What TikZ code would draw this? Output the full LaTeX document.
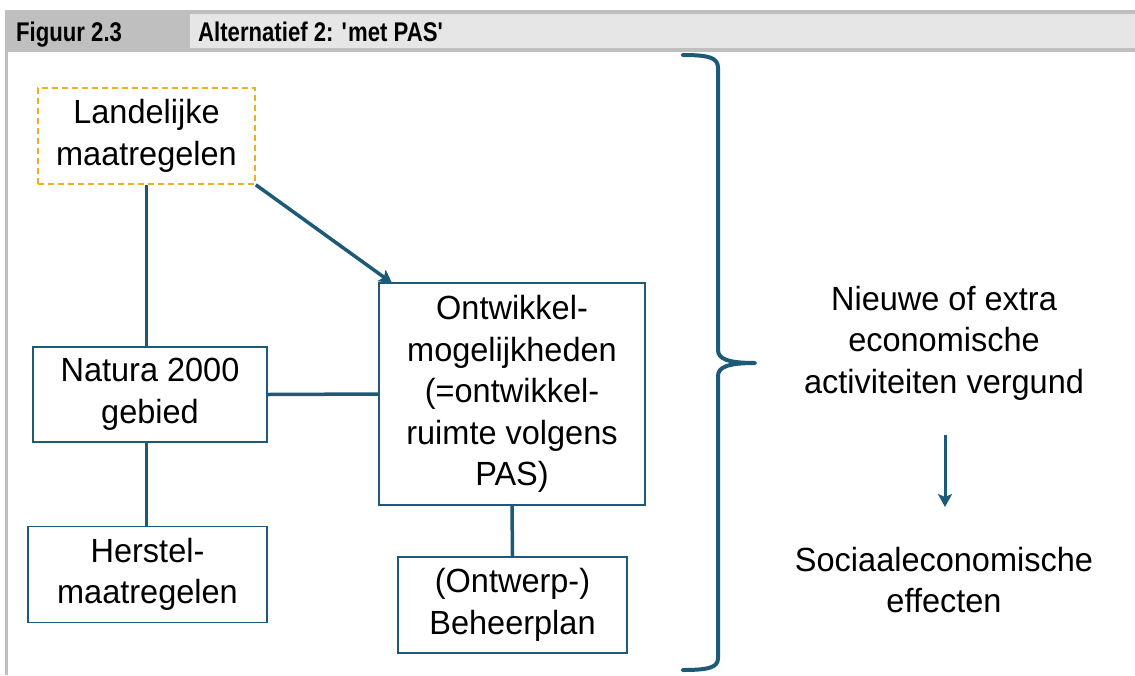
\documentclass[tikz,border=0pt]{standalone}
\usepackage{fontspec}
\setmainfont{Liberation Sans}[FakeStretch=0.97]
\newfontfamily\headfont{Liberation Sans}[FakeStretch=0.82]
\usetikzlibrary{arrows.meta}
\definecolor{navy}{HTML}{1D5A78}
\definecolor{gold}{HTML}{ECB11F}
\definecolor{hdark}{HTML}{BFBFBF}
\definecolor{hlight}{HTML}{E6E6E6}
\tikzset{
  boxstyle/.style={draw=navy, line width=1.8pt, fill=white, align=center, inner sep=0pt,
    font=\fontsize{33.5}{41.5}\selectfont},
  dashbox/.style={draw=gold, line width=1.6pt, dash pattern=on 6pt off 4pt, align=center, inner sep=0pt,
    font=\fontsize{33.5}{41.5}\selectfont},
  plaintext/.style={align=center, inner sep=0pt, font=\fontsize{33.5}{41.5}\selectfont},
  conn/.style={draw=navy, line width=3.5pt},
  arr/.style={draw=navy, line width=3.5pt, -{Stealth[length=13pt,width=14pt,inset=3pt]}},
  headtext/.style={anchor=base west, inner sep=0pt, font=\headfont\fontsize{27}{30}\selectfont\bfseries}
}
\begin{document}
\begin{tikzpicture}[x=1pt,y=-1pt]
\useasboundingbox (0,0) rectangle (1135,675);
% header
\fill[hdark] (5,10) rectangle (1135,52);
\fill[hlight] (190,14) rectangle (1135,48);
\fill[hdark] (5,52) rectangle (8,675);
\node[headtext] (fig) at (16,41.5) {Figuur 2.3};
\node[headtext] (title) at (198,41.5) {Alternatief 2: \textquotesingle met PAS\textquotesingle};
% boxes
\node[dashbox, minimum width=217pt, minimum height=96pt] (L) at (146.5,136) {Landelijke\\maatregelen};
\node[boxstyle, minimum width=234pt, minimum height=95pt] (N) at (150,394.5) {Natura 2000\\gebied};
\node[boxstyle, minimum width=239pt, minimum height=96pt] (H) at (147.5,574.5) {Herstel-\\maatregelen};
\node[boxstyle, minimum width=266pt, minimum height=222pt] (O) at (512,394) {Ontwikkel-\\mogelijkheden\\(=ontwikkel-\\ruimte volgens\\PAS)};
\node[boxstyle, minimum width=229pt, minimum height=96pt] (B) at (512.5,605) {(Ontwerp-)\\Beheerplan};
% connectors
\draw[conn] (L.south) -- (L.south |- N.north);
\draw[conn] (N.south -| L.south) -- (L.south |- H.north);
\draw[conn] (N.east) -- (O.west);
\draw[conn] (O.south) -- (B.north);
\draw[arr] (L.south east) -- ([xshift=14pt,yshift=-1pt]O.north west);
% brace
\draw[navy, line width=4pt, line cap=round, line join=round]
  (683,55) .. controls (710,55) and (718,58) .. (718,68) -- (718,350)
  .. controls (718,359) and (728,363) .. (755,363)
  .. controls (728,363) and (718,367) .. (718,376) -- (718,658)
  .. controls (718,667) and (710,670) .. (683,670);
% right side
\node[plaintext] (R1) at (944,343) {Nieuwe of extra\\economische\\activiteiten vergund};
\node[plaintext] (R2) at (944,580) {Sociaaleconomische\\effecten};
\coordinate (a1) at (945,435);
\coordinate (a2) at (945,507);
\draw[arr, line width=3pt] (a1) -- (a2);
\end{tikzpicture}
\end{document}
